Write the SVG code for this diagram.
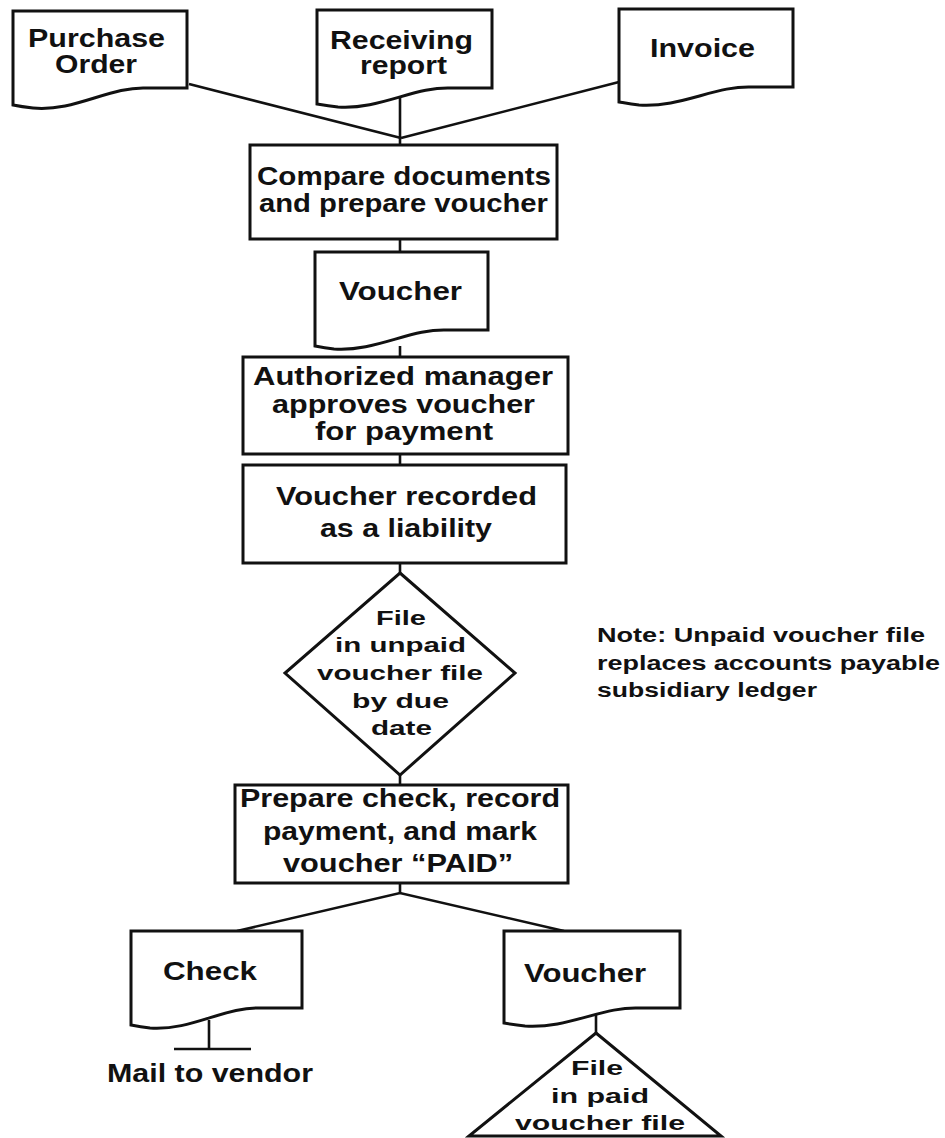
<svg xmlns="http://www.w3.org/2000/svg" width="945" height="1138" viewBox="0 0 945 1138">
<style>
.s{fill:#fff;stroke:#111;stroke-width:3;stroke-linejoin:miter}
.c{fill:none;stroke:#111;stroke-width:2.6}
.t{font-family:"Liberation Sans",Arial,sans-serif;font-weight:bold;font-size:25px;fill:#111}
.m{font-size:21px}
.n{font-size:20px}
</style>
<rect width="945" height="1138" fill="#fff"/>
<g id="connectors">
<line class="c" x1="189" y1="84" x2="401" y2="138"/>
<line class="c" x1="619" y1="82" x2="401" y2="138"/>
<line class="c" x1="400" y1="98" x2="400" y2="145"/>
<line class="c" x1="400" y1="239" x2="400" y2="252"/>
<line class="c" x1="400" y1="346" x2="400" y2="357"/>
<line class="c" x1="400" y1="454" x2="400" y2="465"/>
<line class="c" x1="400" y1="563" x2="400" y2="573"/>
<line class="c" x1="400" y1="775" x2="400" y2="785"/>
<polyline class="c" points="237,931 400,893 564,931"/>
<line class="c" x1="400" y1="883" x2="400" y2="893"/>
<line class="c" x1="209" y1="1020" x2="209" y2="1049"/>
<line class="c" x1="174" y1="1049" x2="251" y2="1049"/>
<line class="c" x1="596" y1="1014" x2="596" y2="1033"/>
</g>
<g id="purchase-order">
<path class="s" d="M13,11 H187 V88 H147 C110,86 75,112 33,108 C24,107 18,106 13,105 Z"/>
<text class="t" x="28" y="47" textLength="137" lengthAdjust="spacingAndGlyphs">Purchase</text>
<text class="t" x="55" y="73" textLength="82" lengthAdjust="spacingAndGlyphs">Order</text>
</g>
<g id="receiving-report">
<path class="s" d="M317,10 H492 V88 H452 C415,86 380,110 338,107 C329,106 323,105 317,104 Z"/>
<text class="t" x="330" y="49" textLength="143" lengthAdjust="spacingAndGlyphs">Receiving</text>
<text class="t" x="360" y="74" textLength="87" lengthAdjust="spacingAndGlyphs">report</text>
</g>
<g id="invoice">
<path class="s" d="M619,9 H793 V87 H753 C716,85 681,108 639,105 C630,104 625,103 619,102 Z"/>
<text class="t" x="650" y="57" textLength="105" lengthAdjust="spacingAndGlyphs">Invoice</text>
</g>
<g id="compare">
<rect class="s" x="250" y="145" width="307" height="94"/>
<text class="t" x="257" y="185" textLength="294" lengthAdjust="spacingAndGlyphs">Compare documents</text>
<text class="t" x="259" y="212" textLength="289" lengthAdjust="spacingAndGlyphs">and prepare voucher</text>
</g>
<g id="voucher">
<path class="s" d="M315,252 H488 V330 H448 C411,328 376,352 334,349 C325,348 320,347 315,346 Z"/>
<text class="t" x="339" y="300" textLength="123" lengthAdjust="spacingAndGlyphs">Voucher</text>
</g>
<g id="approve">
<rect class="s" x="243" y="357" width="325" height="97"/>
<text class="t" x="253" y="385" textLength="300" lengthAdjust="spacingAndGlyphs">Authorized manager</text>
<text class="t" x="272" y="413" textLength="263" lengthAdjust="spacingAndGlyphs">approves voucher</text>
<text class="t" x="315" y="440" textLength="178" lengthAdjust="spacingAndGlyphs">for payment</text>
</g>
<g id="record">
<rect class="s" x="243" y="465" width="323" height="98"/>
<text class="t" x="276" y="505" textLength="261" lengthAdjust="spacingAndGlyphs">Voucher recorded</text>
<text class="t" x="320" y="537" textLength="172" lengthAdjust="spacingAndGlyphs">as a liability</text>
</g>
<g id="unpaid-file">
<polygon class="s" points="400,573 515,673 400,775 285,673"/>
<text class="t m" x="376" y="625" textLength="50" lengthAdjust="spacingAndGlyphs">File</text>
<text class="t m" x="335" y="652" textLength="131" lengthAdjust="spacingAndGlyphs">in unpaid</text>
<text class="t m" x="317" y="680" textLength="166" lengthAdjust="spacingAndGlyphs">voucher file</text>
<text class="t m" x="352" y="708" textLength="97" lengthAdjust="spacingAndGlyphs">by due</text>
<text class="t m" x="371" y="735" textLength="61" lengthAdjust="spacingAndGlyphs">date</text>
</g>
<g id="note">
<text class="t n" x="597" y="642" textLength="328" lengthAdjust="spacingAndGlyphs">Note: Unpaid voucher file</text>
<text class="t n" x="597" y="670" textLength="343" lengthAdjust="spacingAndGlyphs">replaces accounts payable</text>
<text class="t n" x="597" y="697" textLength="220" lengthAdjust="spacingAndGlyphs">subsidiary ledger</text>
</g>
<g id="prepare">
<rect class="s" x="235" y="785" width="333" height="98"/>
<text class="t" x="240" y="807" textLength="320" lengthAdjust="spacingAndGlyphs">Prepare check, record</text>
<text class="t" x="263" y="840" textLength="274" lengthAdjust="spacingAndGlyphs">payment, and mark</text>
<text class="t" x="283" y="872" textLength="230" lengthAdjust="spacingAndGlyphs">voucher “PAID”</text>
</g>
<g id="check">
<path class="s" d="M131,931 H302 V1008 H262 C225,1006 192,1031 150,1028 C141,1027 136,1026 131,1025 Z"/>
<text class="t" x="163" y="980" textLength="94" lengthAdjust="spacingAndGlyphs">Check</text>
</g>
<g id="mail">
<text class="t" x="107" y="1082" textLength="206" lengthAdjust="spacingAndGlyphs">Mail to vendor</text>
</g>
<g id="voucher-paid">
<path class="s" d="M504,931 H680 V1008 H640 C603,1006 568,1029 525,1026 C516,1025 510,1024 504,1023 Z"/>
<text class="t" x="524" y="982" textLength="122" lengthAdjust="spacingAndGlyphs">Voucher</text>
</g>
<g id="paid-file">
<polygon class="s" points="596,1033 721,1136 469,1136"/>
<text class="t m" x="571" y="1075" textLength="52" lengthAdjust="spacingAndGlyphs">File</text>
<text class="t m" x="551" y="1103" textLength="98" lengthAdjust="spacingAndGlyphs">in paid</text>
<text class="t m" x="515" y="1130" textLength="170" lengthAdjust="spacingAndGlyphs">voucher file</text>
</g>
</svg>
